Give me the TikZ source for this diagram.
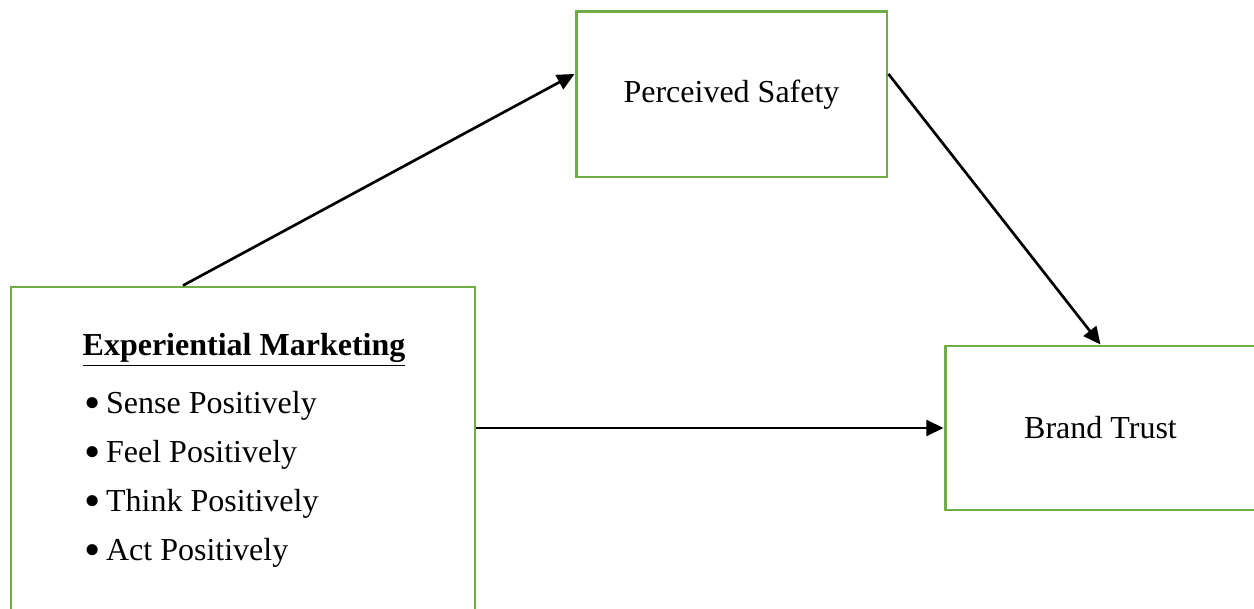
\documentclass[tikz,border=0pt]{standalone}
\usepackage{fontspec}
\setmainfont{Liberation Serif}
\definecolor{boxgreen}{RGB}{112, 173, 71}
\usetikzlibrary{arrows.meta, positioning, calc}

\begin{document}
\begin{tikzpicture}[x=0.375pt, y=-0.375pt, font=\fontsize{12}{14}\selectfont,
    varbox/.style={draw=boxgreen, line width=1.1pt, inner sep=0pt, align=center},
    link/.style={line width=1pt, -{Triangle[length=6.5pt, width=6pt]}}]
  \useasboundingbox (0,0) rectangle (1254,609);
  \clip (0,0) rectangle (1254,609);

  % the three constructs
  \node[varbox, minimum width=116.6pt, minimum height=61.9pt] (ps) at (731.5,94.5) {Perceived Safety};
  \node[varbox, minimum width=116.6pt, minimum height=61.5pt] (bt) at (1100.5,428) {Brand Trust};
  \node[varbox, minimum width=174pt, minimum height=139.9pt] (em) at (243,473.5) {};

  % contents of the left box
  \node[anchor=base] (title) at (244,355) {\underline{\textbf{Experiential Marketing}}};
  \foreach \y/\t in {413/Sense, 462/Feel, 511/Think, 560/Act}
    \node[anchor=base west, inner sep=0pt] (b\t) at (84,\y)
      {\raisebox{-2pt}{\scalebox{1.45}{\textbullet}}\hspace{2pt}\t\ Positively};

  % paths
  \draw[link] ([xshift=-22.5pt]em.north) -- ([yshift=7.7pt]ps.west);
  \draw[link] ([yshift=7.7pt]ps.east) -- (bt.north);
  \draw[link] (bt.west -| em.east) -- (bt.west);
\end{tikzpicture}
\end{document}
